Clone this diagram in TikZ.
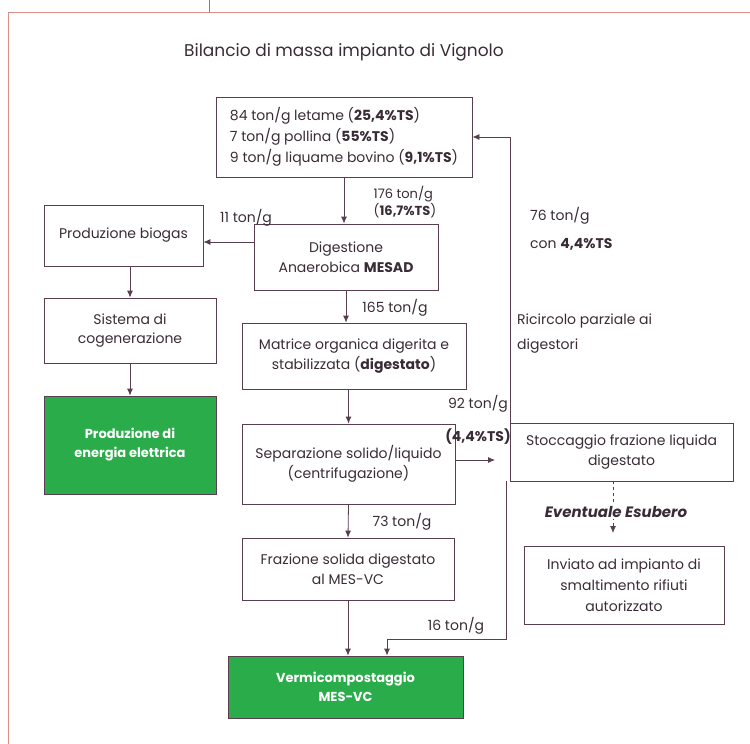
\documentclass[tikz,border=0pt]{standalone}
\usepackage{fontspec}
\setmainfont{Poppins}
\usetikzlibrary{arrows.meta}
\definecolor{ink}{RGB}{58,44,54}
\definecolor{wire}{RGB}{88,62,78}
\definecolor{cornice}{RGB}{222,140,135}
\definecolor{verde}{RGB}{43,172,74}

\begin{document}
\begin{tikzpicture}[x=1pt,y=-1pt,
      font=\fontsize{14}{19.5}\selectfont, text=ink,
      box/.style={draw=wire, line width=0.8pt, align=center, inner sep=2pt},
      verdebox/.style={box, fill=verde, text=white, font=\fontsize{13}{19}\selectfont\bfseries},
      flow/.style={draw=wire, line width=0.8pt, -{Latex[length=7pt,width=6pt]}},
      dashflow/.style={flow, dashed},
      lbl/.style={inner sep=0pt}]
    \useasboundingbox (0,0) rectangle (750,744);
    \draw[cornice, line width=1pt] (750,12) -- (8,12) -- (8,744);
    \draw[gray, line width=0.8pt] (209,0) -- (209,12);
    \node[font=\fontsize{17}{20}\selectfont] (titolo) at (344,52) {Bilancio di massa impianto di Vignolo};

    \node[box, align=left, minimum width=256pt, minimum height=80pt, font=\fontsize{14}{21}\selectfont] (ingresso) at (344,137)
        {84 ton/g letame (\textbf{25,4\%TS})\\7 ton/g pollina (\textbf{55\%TS})\\9 ton/g liquame bovino (\textbf{9,1\%TS})};
    \node[box, minimum width=184pt, minimum height=66pt] (digestione) at (346,257) {Digestione\\Anaerobica \textbf{MESAD}};
    \node[box, minimum width=159pt, minimum height=61pt] (biogas) at (123.5,235.5) {Produzione biogas};
    \node[box, minimum width=172pt, minimum height=65pt] (cogen) at (130,330.5) {Sistema di\\cogenerazione};
    \node[verdebox, minimum width=172pt, minimum height=98pt] (energia) at (130,445) {Produzione di\\energia elettrica};
    \node[box, minimum width=224pt, minimum height=66pt] (matrice) at (354,356) {Matrice organica digerita e\\stabilizzata (\textbf{digestato})};
    \node[box, minimum width=213pt, minimum height=80pt] (separazione) at (348.5,464) {Separazione solido/liquido\\(centrifugazione)};
    \node[box, minimum width=212pt, minimum height=62pt] (solida) at (348,569) {Frazione solida digestato\\al MES-VC};
    \node[verdebox, minimum width=235pt, minimum height=62pt] (vermi) at (345.5,687) {Vermicompostaggio\\MES-VC};
    \node[box, minimum width=223pt, minimum height=58pt] (stoccaggio) at (621.5,452) {Stoccaggio frazione liquida\\digestato};
    \node[box, minimum width=200pt, minimum height=78pt, font=\fontsize{14}{21}\selectfont] (inviato) at (624,585) {Inviato ad impianto di\\smaltimento rifiuti\\autorizzato};

    \coordinate (sepfine) at (495,460);
    \coordinate (piega) at (387,639);
    \coordinate (esubero) at (613,533);

    \draw[flow] (ingresso.south) -- (ingresso.south |- digestione.north);
    \draw[flow] ([yshift=15pt]digestione.west) -- ([yshift=15pt]digestione.west -| biogas.east);
    \draw[flow] (biogas.south -| cogen.north) -- (cogen.north);
    \draw[flow] (cogen.south) -- (energia.north);
    \draw[flow] (digestione.south) -- (digestione.south |- matrice.north);
    \draw[flow] (separazione.north |- matrice.south) -- (separazione.north);
    \draw[flow] (separazione.south) -- (solida.north);
    \draw[flow] (solida.south) -- (solida.south |- vermi.north);
    \draw[flow] (separazione.east |- sepfine) -- (sepfine);
    \draw[flow] ([xshift=1pt]stoccaggio.north west) |- (ingresso.east);
    \draw[flow] ([xshift=-3pt]stoccaggio.south west) |- (piega) -- (piega |- vermi.north);
    \draw[dashflow] (stoccaggio.south -| esubero) -- (esubero);

    \node[lbl, align=left, font=\fontsize{13}{17}\selectfont] (l176) at (405,202) {176 ton/g\\(\textbf{16,7\%TS})};
    \node[lbl] (l11) at (246,218) {11 ton/g};
    \node[lbl] (l165) at (395,308) {165 ton/g};
    \node[lbl] (l92) at (478,404) {92 ton/g};
    \node[lbl] (l44) at (478,437) {\textbf{(4,4\%TS)}};
    \node[lbl] (l73) at (402,522) {73 ton/g};
    \node[lbl] (l16) at (456,626) {16 ton/g};
    \node[lbl, anchor=west, align=left, font=\fontsize{14}{28}\selectfont] (l76) at (530,229) {76 ton/g\\con \textbf{4,4\%TS}};
    \node[lbl, anchor=west, align=left, font=\fontsize{14}{25}\selectfont] (ricircolo) at (517,334) {Ricircolo parziale ai\\digestori};
    \node[fill=white, inner sep=1pt, font=\fontsize{15}{18}\selectfont\bfseries\itshape] (esub) at (616,512) {Eventuale Esubero};
\end{tikzpicture}
\end{document}
